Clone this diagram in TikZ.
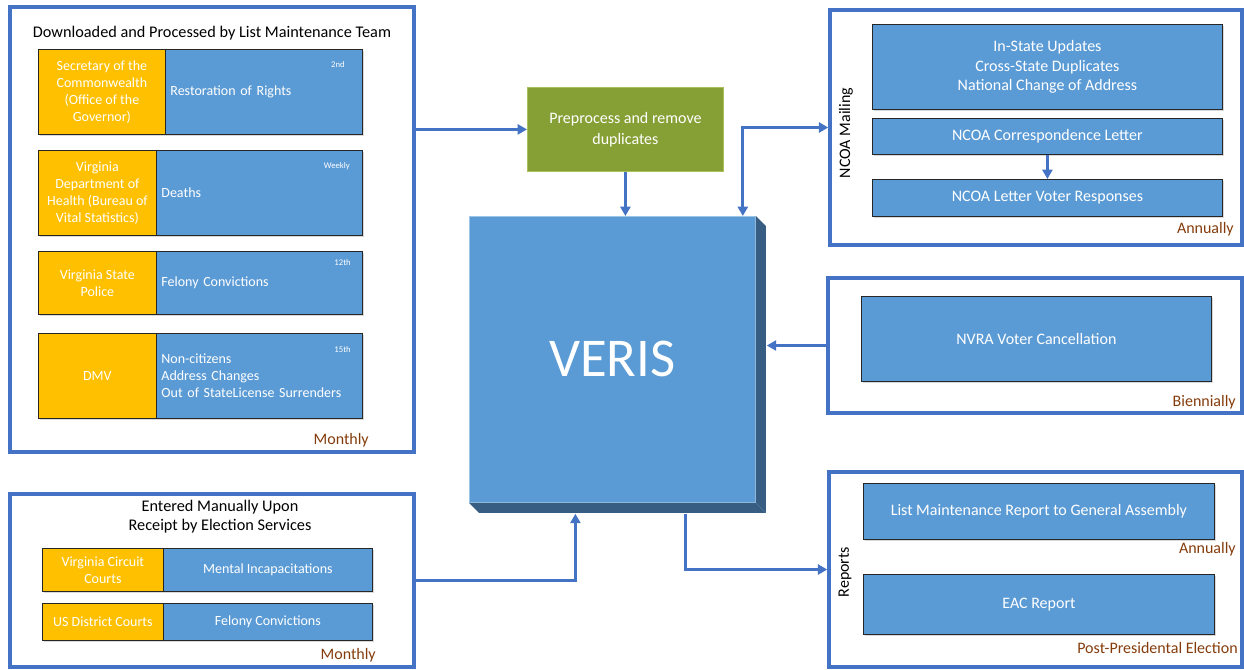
\documentclass[tikz,border=0pt]{standalone}
\usepackage{fontspec}
\setmainfont{Carlito}
\usetikzlibrary{arrows.meta,shadows,fit}
\definecolor{pblue}{HTML}{4472C4}
\definecolor{bblue}{HTML}{5B9BD5}
\definecolor{orng}{HTML}{FFC000}
\definecolor{boxline}{HTML}{262626}
\definecolor{grn}{HTML}{87A036}
\definecolor{grnline}{HTML}{A8C15A}
\definecolor{bev}{HTML}{385D82}
\definecolor{brn}{HTML}{843C0C}
\begin{document}
\begin{tikzpicture}[x=0.75pt,y=-0.75pt,
  panel/.style={draw=pblue,line width=2.6pt,inner sep=0pt},
  boxbase/.style={draw=boxline,line width=0.6pt,text=white,inner sep=0pt,anchor=north west,
     drop shadow={shadow xshift=1.3pt,shadow yshift=-1.3pt,opacity=0.3}},
  obox/.style={boxbase,fill=orng,align=center,font=\fontsize{10.5}{12.75}\selectfont},
  lbox/.style={boxbase,fill=bblue,align=left,font=\fontsize{10.5}{12.75}\selectfont,inner xsep=3.75pt},
  cbox/.style={boxbase,fill=bblue,align=center,font=\fontsize{10.5}{12.75}\selectfont},
  bbox/.style={boxbase,fill=bblue,align=center,font=\fontsize{12}{14.6}\selectfont},
  small/.style={text=white,font=\fontsize{6.5}{7}\selectfont,anchor=east,inner sep=0pt},
  freq/.style={text=brn,font=\fontsize{12}{14}\selectfont,anchor=east,inner sep=0pt},
  ttl/.style={text=black,font=\fontsize{12.2}{14.25}\selectfont,align=center,inner sep=0pt},
  arr/.style={draw=pblue,line width=2pt,-{Triangle[length=7pt,width=7.5pt]}},
  darr/.style={draw=pblue,line width=2pt,{Triangle[length=7pt,width=7.5pt]}-{Triangle[length=7pt,width=7.5pt]}}
]
\useasboundingbox (0,0) rectangle (1244,669);

% ---------- left top panel ----------
\node[panel,fit={(10,7) (414,452)}] (p1) {};
\node[ttl] (t1) at (212,33) {Downloaded and Processed by List Maintenance Team};
\node[obox,minimum width=95.25pt,minimum height=63.75pt] (o1) at (38,49) {Secretary of the\\Commonwealth\\(Office of the\\Governor)};
\node[lbox,text width=140.25pt,minimum height=63.75pt] (b1) at (165,49) {Restoration of Rights};
\node[small] (s1) at (345,65) {2nd};
\node[obox,minimum width=88.5pt,minimum height=63.75pt] (o2) at (38,150) {Virginia\\Department of\\Health (Bureau of\\Vital Statistics)};
\node[lbox,text width=147pt,minimum height=63.75pt] (b2) at (156,150) {Deaths};
\node[small] (s2) at (350,166) {Weekly};
\node[obox,minimum width=88.5pt,minimum height=47.25pt] (o3) at (38,251) {Virginia State\\Police};
\node[lbox,text width=147pt,minimum height=47.25pt] (b3) at (156,251) {Felony Convictions};
\node[small] (s3) at (351,263) {12th};
\node[obox,minimum width=88.5pt,minimum height=63.75pt] (o4) at (38,333) {DMV};
\node[lbox,text width=147pt,minimum height=63.75pt] (b4) at (156,333) {Non-citizens\\Address Changes\\Out of StateLicense Surrenders};
\node[small] (s4) at (351,350) {15th};
\node[freq] (f1) at (369,440) {Monthly};

% ---------- left bottom panel ----------
\node[panel,fit={(10,494) (414,667)}] (p5) {};
\node[ttl] (t5) at (220,516.5) {Entered Manually Upon\\Receipt by Election Services};
\node[obox,minimum width=90.75pt,minimum height=32.25pt] (o5) at (42,548) {Virginia Circuit\\Courts};
\node[cbox,minimum width=156.75pt,minimum height=32.25pt] (b5) at (163,548) {Mental Incapacitations};
\node[obox,minimum width=90.75pt,minimum height=27.75pt] (o6) at (42,603) {US District Courts};
\node[cbox,minimum width=156.75pt,minimum height=27.75pt] (b6) at (163,603) {Felony Convictions};
\node[freq] (f5) at (376,655) {Monthly};

% ---------- centre ----------
\node[fill=grn,draw=grnline,line width=0.6pt,text=white,align=center,inner sep=0pt,
      font=\fontsize{12}{15.5}\selectfont,minimum width=147pt,minimum height=63pt,anchor=north west]
      (pre) at (527,87) {Preprocess and remove\\duplicates};
\node[fill=bblue,draw=bblue!60!white,line width=0.6pt,text=white,inner sep=0pt,
      minimum width=214.5pt,minimum height=214.5pt,anchor=north west,
      font=\fontsize{41}{49}\selectfont] (veris) at (469,216) {VERIS};
\fill[bev] (veris.north east) -- ++(10,10) -- ([shift={(7.5pt,-7.5pt)}]veris.south east) -- (veris.south east) -- cycle;
\fill[bev] (veris.south west) -- (veris.south east) -- ([shift={(7.5pt,-7.5pt)}]veris.south east) -- ([shift={(7.5pt,-7.5pt)}]veris.south west) -- cycle;
\coordinate (vtop) at ([xshift=-9.75pt]veris.north east);
\coordinate (vside) at ([xshift=8.25pt]veris.east);
\coordinate (vbl) at ([xshift=-27.75pt,yshift=-8.25pt]veris.south);
\coordinate (vbr) at ([xshift=54.75pt,yshift=-8.25pt]veris.south);

% ---------- NCOA panel ----------
\node[panel,fit={(830,10) (1242,245)}] (p2) {};
\node[bbox,minimum width=262.5pt,minimum height=63.75pt] (n1) at (872,24) {In-State Updates\\Cross-State Duplicates\\National Change of Address};
\node[bbox,minimum width=262.5pt,minimum height=27pt] (n2) at (872,118) {NCOA Correspondence Letter};
\node[bbox,minimum width=262.5pt,minimum height=27.75pt] (n3) at (872,179) {NCOA Letter Voter Responses};
\node[freq] (f2) at (1234,229) {Annually};
\node[rotate=90,font=\fontsize{12}{14}\selectfont,inner sep=0pt] (l2) at (846,133) {NCOA Mailing};

% ---------- NVRA panel ----------
\node[panel,fit={(828,278) (1242,413)}] (p3) {};
\node[bbox,minimum width=262.5pt,minimum height=63.75pt] (nv) at (861,296) {NVRA Voter Cancellation};
\node[freq] (f3) at (1236,402) {Biennially};

% ---------- Reports panel ----------
\node[panel,fit={(829,472) (1242,667)}] (p4) {};
\node[bbox,minimum width=263.25pt,minimum height=42pt] (r1) at (863,483) {List Maintenance Report to General Assembly};
\node[freq] (f4) at (1236,549) {Annually};
\node[bbox,minimum width=263.25pt,minimum height=45pt] (r2) at (863,574) {EAC Report};
\node[freq] (f6) at (1238,648) {Post-Presidental Election};
\node[rotate=90,font=\fontsize{12}{14}\selectfont,inner sep=0pt] (l4) at (845,572) {Reports};

% ---------- connectors ----------
\draw[arr] (pre.west -| p1.east) -- (pre.west);
\draw[arr] (pre.south) -- (pre.south |- veris.north);
\draw[darr] (p2.west) -| (vtop);
\draw[arr] (n2.south) -- (n3.north);
\draw[arr] (p3.west) -- (p3.west -| vside);
\draw[arr] (vbr) |- (p4.west);
\draw[arr] (p5.east) -| (vbl);
\end{tikzpicture}
\end{document}
